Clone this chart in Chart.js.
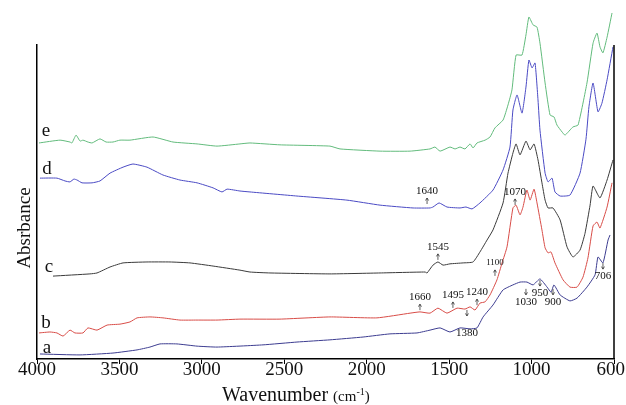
<!DOCTYPE html>
<html>
<head>
<meta charset="utf-8">
<script src="https://cdn.jsdelivr.net/npm/chart.js@4/dist/chart.umd.min.js"></script>
<style>
  html, body { margin: 0; padding: 0; background: #fff; }
  #wrap { width: 626px; height: 405px; }
</style>
</head>
<body>
<div id="wrap"><canvas id="ftir" width="626" height="405"></canvas></div>
<script>
// FTIR spectra a-e, wavenumber (cm-1) vs absorbance (arbitrary, stacked)
const tickValues = [4000, 3500, 3000, 2500, 2000, 1500, 1000, 500];
const tickLabels = ['4000', '3500', '3000', '2500', '2000', '1500', '1000', '600'];

const waveE = [3988,3860,3800,3788,3763,3739,3721,3691,3666,3618,3581,3539,3497,3436,3296,3175,3029,2908,2769,2708,2526,2223,2162,1919,1737,1616,1586,1555,1495,1464,1434,1404,1373,1355,1331,1282,1252,1222,1173,1143,1119,1094,1058,1034,1016,991,967,949,918,888,864,846,815,797,749,718,664,627,603,585,567,542,512];
const absE  = [0.688,0.697,0.691,0.688,0.713,0.694,0.697,0.691,0.688,0.701,0.691,0.691,0.697,0.697,0.707,0.691,0.685,0.678,0.685,0.688,0.682,0.678,0.669,0.662,0.662,0.669,0.675,0.662,0.675,0.669,0.675,0.669,0.685,0.672,0.688,0.697,0.707,0.736,0.761,0.809,0.857,0.968,0.968,1.032,1.089,1.064,1.057,1.006,0.879,0.777,0.771,0.745,0.723,0.713,0.739,0.745,0.879,1.006,1.038,0.994,0.975,1.025,1.102];

const waveD = [3982,3879,3830,3800,3776,3757,3727,3666,3618,3557,3478,3418,3333,3236,3133,3029,2932,2878,2847,2769,2708,2423,2120,1919,1719,1616,1598,1561,1513,1434,1398,1361,1313,1234,1173,1131,1113,1088,1058,1034,1016,997,979,961,949,918,900,876,858,827,767,706,670,652,627,597,573,542,506];
const absD  = [0.576,0.576,0.567,0.564,0.573,0.570,0.561,0.561,0.567,0.592,0.611,0.621,0.611,0.586,0.570,0.561,0.545,0.532,0.541,0.535,0.532,0.519,0.506,0.490,0.481,0.481,0.484,0.497,0.484,0.481,0.484,0.478,0.497,0.538,0.602,0.675,0.793,0.841,0.783,0.866,0.952,0.927,0.943,0.825,0.729,0.592,0.564,0.576,0.532,0.519,0.522,0.592,0.700,0.803,0.879,0.787,0.815,0.889,0.994];

const waveC = [3903,3679,3636,3557,3478,3333,3193,3072,2932,2769,2708,2587,2223,1919,1646,1634,1598,1568,1537,1495,1416,1355,1313,1270,1234,1173,1143,1113,1094,1070,1034,1009,985,961,937,918,900,870,827,785,749,706,676,645,627,585,542,506];
const absC  = [0.264,0.271,0.274,0.293,0.306,0.309,0.309,0.306,0.296,0.283,0.277,0.274,0.271,0.274,0.277,0.274,0.299,0.309,0.299,0.303,0.306,0.309,0.341,0.379,0.411,0.497,0.592,0.656,0.685,0.650,0.694,0.666,0.685,0.634,0.561,0.506,0.481,0.481,0.443,0.357,0.325,0.347,0.400,0.490,0.551,0.513,0.570,0.634];

const waveB = [3988,3921,3879,3842,3800,3770,3721,3691,3636,3575,3497,3436,3393,3315,3236,3133,3029,2908,2769,2526,2223,1938,1737,1677,1616,1568,1513,1452,1404,1373,1343,1313,1282,1252,1210,1179,1149,1113,1094,1070,1052,1028,1009,985,967,937,918,900,882,858,809,767,724,688,658,627,603,585,542,512];
const absB  = [0.083,0.086,0.083,0.073,0.092,0.083,0.083,0.099,0.092,0.108,0.111,0.118,0.131,0.134,0.131,0.124,0.124,0.124,0.127,0.127,0.134,0.131,0.146,0.150,0.146,0.162,0.146,0.162,0.159,0.166,0.156,0.178,0.182,0.204,0.252,0.306,0.357,0.481,0.490,0.459,0.484,0.538,0.506,0.541,0.497,0.411,0.354,0.338,0.341,0.306,0.252,0.229,0.229,0.261,0.322,0.424,0.436,0.417,0.484,0.561];

const waveA = [3982,3739,3539,3393,3315,3254,3151,3029,2908,2629,2423,2223,2022,1859,1695,1616,1555,1495,1434,1373,1331,1294,1234,1173,1113,1070,1028,991,949,906,882,864,827,767,724,664,615,597,567,536,524];
const absA  = [0.016,0.013,0.019,0.029,0.038,0.048,0.048,0.041,0.038,0.045,0.054,0.061,0.070,0.080,0.083,0.092,0.099,0.086,0.099,0.096,0.099,0.134,0.172,0.220,0.236,0.245,0.245,0.236,0.255,0.229,0.213,0.236,0.204,0.185,0.194,0.229,0.268,0.325,0.306,0.379,0.395];

// curve letters, placed at the left end of each trace
const curveNames = ['e', 'd', 'c', 'b', 'a'];
const nameWave = [3945, 3939, 3927, 3945, 3939];
const nameAbs  = [0.726, 0.605, 0.293, 0.115, 0.035];

// band annotations
const noteLabels = ['1640','1545','1660','1495','1380','1240','1100','1070','1030','950','900','706'];
const noteWave   = [1634, 1568, 1677, 1477, 1392, 1331, 1222, 1100, 1034, 949, 870, 567];
const noteAbs    = [0.535, 0.357, 0.197, 0.204, 0.083, 0.213, 0.306, 0.532, 0.182, 0.210, 0.182, 0.264];
const noteDir    = ['up','up','up','up','down','up','up','up','down','down','down','down'];

const SERIF = '"Liberation Serif", "Times New Roman", serif';

function pts(w, a){ return w.map((x, i) => ({ x: x, y: a[i] })); }

const series = [
  { label: 'e', data: pts(waveE, absE), color: '#62bb7c' },
  { label: 'd', data: pts(waveD, absD), color: '#4a4ac4' },
  { label: 'c', data: pts(waveC, absC), color: '#3a3a3a' },
  { label: 'b', data: pts(waveB, absB), color: '#d84c47' },
  { label: 'a', data: pts(waveA, absA), color: '#3c3c90' }
];

const textPlugin = {
  id: 'ftirText',
  afterDraw(chart){
    const ctx = chart.ctx, xs = chart.scales.x, ys = chart.scales.y, area = chart.chartArea;
    ctx.save();

    // right frame line
    ctx.strokeStyle = '#000';
    ctx.lineWidth = 1.5;
    ctx.beginPath();
    ctx.moveTo(area.right, area.top);
    ctx.lineTo(area.right, area.bottom);
    ctx.stroke();

    ctx.fillStyle = '#111';

    // x tick labels (last one kept inside the canvas)
    ctx.font = '19px ' + SERIF;
    ctx.textAlign = 'center';
    ctx.textBaseline = 'alphabetic';
    tickValues.forEach((v, i) => {
      const w = ctx.measureText(tickLabels[i]).width;
      let px = xs.getPixelForValue(v);
      px = Math.min(px, chart.width - w / 2 - 1);
      ctx.fillText(tickLabels[i], px, area.bottom + 16);
    });

    // curve letters
    ctx.textBaseline = 'middle';
    curveNames.forEach((n, i) => {
      ctx.fillText(n, xs.getPixelForValue(nameWave[i]), ys.getPixelForValue(nameAbs[i]));
    });

    // band labels + arrows
    noteLabels.forEach((t, i) => {
      const px = xs.getPixelForValue(noteWave[i]);
      const py = ys.getPixelForValue(noteAbs[i]);
      ctx.font = (t === '1100' ? '9px ' : '11px ') + SERIF;
      ctx.fillText(t, px, py);
      const gap = t === '1380' ? 17 : 7;
      ctx.lineWidth = 0.8;
      ctx.strokeStyle = '#333';
      ctx.beginPath();
      if (noteDir[i] === 'up') {
        const y0 = py + gap, y1 = py + gap + 6;
        ctx.moveTo(px, y1); ctx.lineTo(px, y0);
        ctx.moveTo(px - 1.5, y0 + 2.5); ctx.lineTo(px, y0); ctx.lineTo(px + 1.5, y0 + 2.5);
      } else {
        const y0 = py - gap - 6, y1 = py - gap;
        ctx.moveTo(px, y0); ctx.lineTo(px, y1);
        ctx.moveTo(px - 1.5, y1 - 2.5); ctx.lineTo(px, y1); ctx.lineTo(px + 1.5, y1 - 2.5);
      }
      ctx.stroke();
    });

    // y title
    ctx.save();
    ctx.translate(area.left - 12, area.top + 183);
    ctx.rotate(-Math.PI / 2);
    ctx.font = '19px ' + SERIF;
    ctx.textAlign = 'center';
    ctx.textBaseline = 'middle';
    ctx.fillText('Absrbance', 0, 0);
    ctx.restore();

    // x title with superscript
    ctx.textAlign = 'left';
    ctx.textBaseline = 'alphabetic';
    let x = area.left + 185;
    const base = area.bottom + 42;
    ctx.font = '20px ' + SERIF;
    ctx.fillText('Wavenumber ', x, base);
    x += ctx.measureText('Wavenumber ').width;
    ctx.font = '15px ' + SERIF;
    ctx.fillText('(cm', x, base);
    x += ctx.measureText('(cm').width;
    ctx.font = '10px ' + SERIF;
    ctx.fillText('-1', x, base - 6);
    x += ctx.measureText('-1').width;
    ctx.font = '15px ' + SERIF;
    ctx.fillText(')', x, base);

    ctx.restore();
  }
};

new Chart(document.getElementById('ftir'), {
  type: 'line',
  data: {
    datasets: series.map(s => ({
      label: s.label,
      data: s.data,
      borderColor: s.color,
      borderWidth: 1,
      pointRadius: 0,
      tension: 0.15,
      fill: false,
      clip: false
    }))
  },
  options: {
    responsive: false,
    animation: false,
    devicePixelRatio: 1,
    layout: { padding: { top: 45, left: 37, right: 12, bottom: 41 } },
    plugins: { legend: { display: false }, tooltip: { enabled: false } },
    scales: {
      x: {
        type: 'linear',
        reverse: true,
        min: 500,
        max: 4000,
        afterBuildTicks: axis => { axis.ticks = tickValues.map(v => ({ value: v })); },
        ticks: { display: false },
        grid: { display: true, drawOnChartArea: false, drawTicks: true, tickLength: 5, color: '#000', lineWidth: 1 },
        border: { display: true, color: '#000', width: 1.5 }
      },
      y: {
        min: 0,
        max: 1,
        ticks: { display: false },
        grid: { display: false, drawTicks: false },
        border: { display: true, color: '#000', width: 1.5 }
      }
    }
  },
  plugins: [textPlugin]
});
</script>
</body>
</html>
